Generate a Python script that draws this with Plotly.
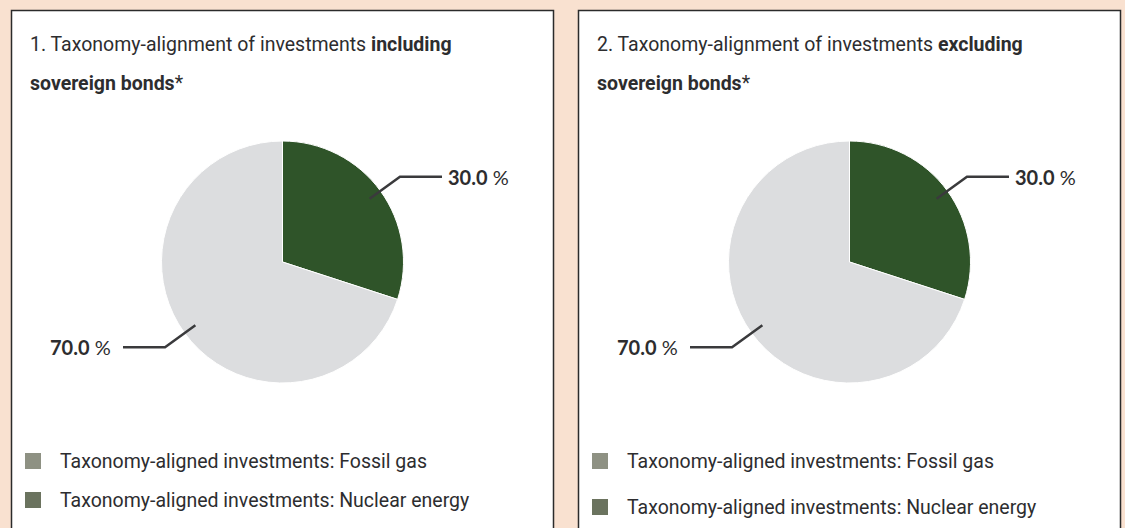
import math
import plotly.graph_objects as go

# ---------------- data ----------------
slice_labels = ["Taxonomy-aligned", "Other investments"]
values_incl = [30.0, 70.0]
values_excl = [30.0, 70.0]
slice_colors = ["#2f5429", "#dcdddf"]

legend_labels = [
    "Taxonomy-aligned investments: Fossil gas",
    "Taxonomy-aligned investments: Nuclear energy",
]
legend_colors = ["#8e9183", "#6b735f"]

titles_line1 = [
    "1. Taxonomy-alignment of investments <b>including</b>",
    "2. Taxonomy-alignment of investments <b>excluding</b>",
]
titles_line2 = ["<b>sovereign bonds</b>*", "<b>sovereign bonds</b>*"]

# ---------------- layout constants ----------------
W, H = 1125, 528
BG = "#f9e1d0"
TEXT = "#2d2d2f"
LINE = "#3a3a3c"
FONT = "Roboto, 'Open Sans', sans-serif"
LABEL_FONT = "Lato, 'Open Sans', sans-serif"


def px(x):
    return x / W


def py(y):
    return 1 - y / H


panels = [
    dict(x0=11.5, x1=553.5, cx=282.5, cy=262, r=121, legend_y=[461, 500]),
    dict(x0=578.5, x1=1120.5, cx=849.5, cy=262, r=121, legend_y=[461, 507]),
]
all_values = [values_incl, values_excl]

fig = go.Figure()
shapes = []
annotations = []

for i, p in enumerate(panels):
    # panel box
    shapes.append(dict(type="rect", xref="paper", yref="paper",
                       x0=px(p["x0"]), x1=px(p["x1"]), y0=py(H + 20), y1=py(10.5),
                       fillcolor="white", line=dict(color="#2b2b2b", width=1.5),
                       layer="below"))
    vals = all_values[i]
    cx, cy, r = p["cx"], p["cy"], p["r"]
    fig.add_trace(go.Pie(
        labels=slice_labels, values=vals, sort=False, direction="clockwise",
        rotation=0, textinfo="none", hole=0,
        marker=dict(colors=slice_colors, line=dict(color="white", width=1)),
        domain=dict(x=[px(cx - r), px(cx + r)], y=[py(cy + r), py(cy - r)]),
        showlegend=False, hoverinfo="label+percent",
    ))
    # leader lines and value labels, derived from values
    total = sum(vals)
    cum = 0.0
    for v in vals:
        mid = (cum + v / 2) / total * 2 * math.pi
        cum += v
        dx, dy = math.sin(mid), -math.cos(mid)
        x_in, y_in = cx + dx * r * 0.89, cy + dy * r * 0.89
        x_el, y_el = cx + dx * r * 1.2, cy + dy * r * 1.2
        side = 1 if dx >= 0 else -1
        x_end = x_el + side * 42
        path = (f"M {px(x_in)},{py(y_in)} L {px(x_el)},{py(y_el)} "
                f"L {px(x_end)},{py(y_el)}")
        shapes.append(dict(type="path", xref="paper", yref="paper", path=path,
                           line=dict(color=LINE, width=2.5)))
        gap = 4 if side > 0 else 10
        annotations.append(dict(
            xref="paper", yref="paper", x=px(x_end + side * gap), y=py(y_el),
            xanchor="left" if side > 0 else "right", yanchor="middle",
            text=f"<b>{v:.1f}</b> %", showarrow=False,
            font=dict(family=LABEL_FONT, size=20, color=TEXT)))
    # titles
    tx = p["x0"] + 16.5
    annotations.append(dict(xref="paper", yref="paper", x=px(tx), y=py(45),
                            xanchor="left", yanchor="middle", text=titles_line1[i],
                            showarrow=False,
                            font=dict(family=FONT, size=19.5, color=TEXT)))
    annotations.append(dict(xref="paper", yref="paper", x=px(tx), y=py(83),
                            xanchor="left", yanchor="middle", text=titles_line2[i],
                            showarrow=False,
                            font=dict(family=FONT, size=19.5, color=TEXT)))
    # legend
    for lab, col, ly in zip(legend_labels, legend_colors, p["legend_y"]):
        sx = p["x0"] + 13.5
        shapes.append(dict(type="rect", xref="paper", yref="paper",
                           x0=px(sx), x1=px(sx + 16), y0=py(ly + 8), y1=py(ly - 8),
                           fillcolor=col, line=dict(width=0)))
        annotations.append(dict(xref="paper", yref="paper", x=px(sx + 33), y=py(ly),
                                xanchor="left", yanchor="middle", text=lab,
                                showarrow=False,
                                font=dict(family=FONT, size=19.5, color=TEXT)))

fig.update_layout(
    width=W, height=H, margin=dict(l=0, r=0, t=0, b=0),
    paper_bgcolor=BG, plot_bgcolor=BG,
    shapes=shapes, annotations=annotations, showlegend=False,
)

fig.write_html(
    "out.html",
    config={"displayModeBar": False},
    post_script="document.body.style.margin='0';document.body.style.padding='0';"
                "document.body.style.overflow='hidden';"
                f"document.body.style.background='{BG}';",
)
